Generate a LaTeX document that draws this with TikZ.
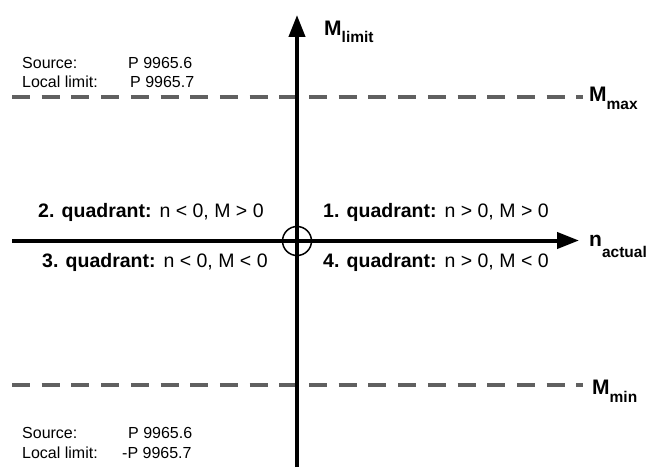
\documentclass[tikz,border=0pt]{standalone}
\usepackage{fontspec}
\setmainfont{Liberation Sans}
\usetikzlibrary{arrows.meta}
\definecolor{limgray}{HTML}{606060}
\newcommand{\axsub}[2]{\raisebox{-#1}{\fontsize{15.5}{16}\selectfont #2}}
\tikzset{
  axis/.style={line width=4pt, -{Triangle[length=22pt,width=16pt]}},
  limline/.style={line width=4pt, limgray, dash pattern=on 18pt off 11.7pt},
  quadlbl/.style={inner sep=0pt, font=\fontsize{19.5}{22}\selectfont},
  infolbl/.style={inner sep=0pt, font=\fontsize{16}{18}\selectfont},
  axlbl/.style={inner sep=0pt, font=\fontsize{21}{24}\selectfont\bfseries},
}
\begin{document}
\begin{tikzpicture}[x=1pt,y=-1pt]
\useasboundingbox (0,0) rectangle (653,473);
% coordinates
\coordinate (vbot) at (297,467);
\coordinate (vtop) at (297,15);
\coordinate (hleft) at (12,240.5);
\coordinate (hright) at (579,240.5);
\coordinate (maxl) at (12,97);
\coordinate (maxr) at (583,97);
\coordinate (minl) at (12,385);
\coordinate (minr) at (583,385);
% limit lines
\draw[limline] (maxl) -- (maxr);
\draw[limline] (minl) -- (minr);
% axes
\draw[axis] (hleft) -- (hright);
\draw[axis] (vbot) -- (vtop);
\node[circle, draw, line width=1.5pt, minimum size=29pt, inner sep=0pt] (origin) at (297,241) {};
% axis labels
\node[axlbl, anchor=base west] (mlimit) at (324,36) {M\axsub{7pt}{limit}};
\node[axlbl, anchor=base west] (mmax) at (589,102) {M\axsub{8pt}{max}};
\node[axlbl, anchor=base west] (mmin) at (592,394) {M\axsub{8pt}{min}};
\node[axlbl, anchor=base west] (nact) at (589,247) {n\axsub{10pt}{actual}};
% quadrant labels
\node[quadlbl, anchor=base west] (q1) at (323,218) {\textbf{1. quadrant:}\hspace{8pt}n > 0, M > 0};
\node[quadlbl, anchor=base west] (q2) at (38,218) {\textbf{2. quadrant:}\hspace{8pt}n < 0, M > 0};
\node[quadlbl, anchor=base west] (q3) at (42,267) {\textbf{3. quadrant:}\hspace{8pt}n < 0, M < 0};
\node[quadlbl, anchor=base west] (q4) at (323,267) {\textbf{4. quadrant:}\hspace{8pt}n > 0, M < 0};
% info labels
\node[infolbl, anchor=base west] (s1) at (22,69) {Source:};
\node[infolbl, anchor=base west] (s1v) at (128,69) {P 9965.6};
\node[infolbl, anchor=base west] (l1) at (22,88) {Local limit:};
\node[infolbl, anchor=base west] (l1v) at (130,88) {P 9965.7};
\node[infolbl, anchor=base west] (s2) at (22,438) {Source:};
\node[infolbl, anchor=base west] (s2v) at (128,438) {P 9965.6};
\node[infolbl, anchor=base west] (l2) at (22,458) {Local limit:};
\node[infolbl, anchor=base west] (l2v) at (122,458) {-P 9965.7};
\end{tikzpicture}
\end{document}
